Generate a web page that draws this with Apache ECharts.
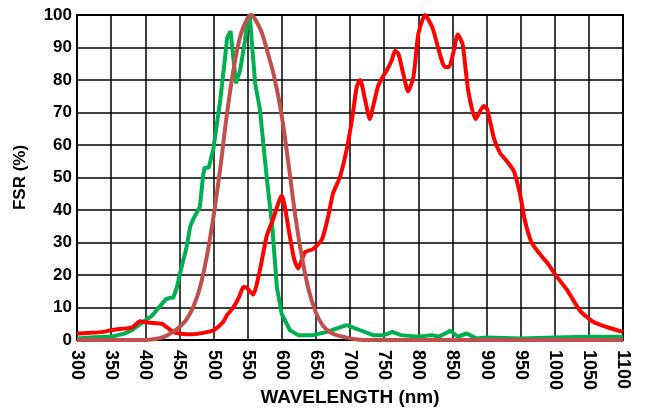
<!DOCTYPE html>
<html><head><meta charset="utf-8">
<script src="https://cdn.jsdelivr.net/npm/echarts@6/dist/echarts.min.js"></script>
<style>html,body{margin:0;padding:0;background:#fff}#c{width:649px;height:410px}</style>
</head><body><div id="c"></div>
<script>
const xTicks = [300,350,400,450,500,550,600,650,700,750,800,850,900,950,1000,1050,1100];
const yTicks = [0,10,20,30,40,50,60,70,80,90,100];

const greenNm = [300,320,340,350,360,370,380,390,400,410,420,430,437,441,446,455,460,466,470,475,480,485,487,493,500,510,517,520,525,533,539,546,550,553,561,568,578,586,593,600,612,624,646,666,680,695,715,734,750,762,775,800,820,830,847,858,871,885,900,950,1000,1050,1100];
const greenV  = [0.5,0.8,1,1,1.5,2,3,4.5,6,7.5,10,12.5,13,13,16,24,28,35,37,39,41,51,53,53,59,74,87,93,95,79,83,92,99,100,79,71,50,35,16,8,3,1.5,1.5,2.5,3.5,4.6,3,1.5,1.5,2.5,1.5,1,1.5,1,2.8,1,2,0.5,0.8,0.5,0.8,1,1];

const redNm = [300,320,338,350,363,370,382,392,400,407,424,433,441,450,461,470,485,500,514,520,529,537,544,549,558,568,578,587,600,612,618,624,634,646,659,668,675,685,695,703,710,715,722,729,734,741,747,754,761,766,771,778,785,793,800,810,821,829,839,845,851,858,865,873,884,896,901,911,920,930,940,949,956,966,978,990,1003,1018,1037,1056,1076,1100];
const redV  = [2,2.2,2.5,3,3.4,3.5,4,5.8,5.5,5.3,5,3.7,2.5,2,1.8,1.8,2.2,3,5.5,7.7,10,13,16.3,16,14,21.5,32,37,44.5,31.7,25,22,27,28,31,38,45,50,58.5,68,78,80,74,68,72,78,80.6,83,86,89,88,82,76.5,81,94,100,96,90,84,84,88,94,91,77,68,72,71,62,57.5,55,52,45,37,30,26.5,23.5,19.5,15.4,9,5.6,4,2.5];

const brownNm = [300,400,420,430,440,450,460,470,480,490,500,510,520,530,540,550,555,560,570,580,590,600,610,620,630,640,650,660,670,680,690,700,720,1100];
const brownV  = [0,0,0.5,1.2,2.4,4,6.2,10,16,25.5,38,53,70,84,94,99,100,99,95,88,80,69,54,38,25,15,8.5,4.5,2.5,1.5,1,0.5,0,0];

const zip = (a,b) => a.map((x,i)=>[x,b[i]]);
const font = 'Liberation Sans, Arial, sans-serif';
const chart = echarts.init(document.getElementById('c'), null, {renderer:'canvas'});
chart.setOption({
  animation:false,
  backgroundColor:'#fff',
  grid:{left:77,right:26,top:15,bottom:70,containLabel:false,outerBoundsMode:'none',show:true,borderColor:'#000',borderWidth:2,backgroundColor:'transparent'},
  xAxis:{type:'value',min:300,max:1100,interval:50,
    name:'WAVELENGTH (nm)',nameLocation:'middle',nameGap:48,nameMoveOverlap:false,
    nameTextStyle:{fontFamily:font,fontWeight:'bold',fontSize:19,color:'#000',verticalAlign:'top'},
    axisLine:{show:true,lineStyle:{color:'#000',width:2}},axisTick:{show:false},
    axisLabel:{rotate:-90,margin:10,fontFamily:font,fontWeight:'bold',fontSize:18,color:'#000',
      formatter:v=>xTicks.includes(v)?String(v):''},
    splitLine:{show:true,lineStyle:{color:'#000',width:1.5}}},
  yAxis:{type:'value',min:0,max:100,interval:10,
    name:'FSR (%)',nameLocation:'middle',nameGap:48,nameRotate:90,nameMoveOverlap:false,
    nameTextStyle:{fontFamily:font,fontWeight:'bold',fontSize:17,color:'#000'},
    axisLine:{show:true,lineStyle:{color:'#000',width:2}},axisTick:{show:false},
    axisLabel:{margin:5,fontFamily:font,fontWeight:'bold',fontSize:17,color:'#000',
      formatter:v=>yTicks.includes(v)?String(v):''},
    splitLine:{show:true,lineStyle:{color:'#000',width:1.5}}},
  series:[
    {type:'line',data:zip(greenNm,greenV),symbol:'none',lineStyle:{color:'#00b050',width:4},z:2},
    {type:'line',data:zip(redNm,redV),symbol:'none',smooth:0.2,lineStyle:{color:'#ff0000',width:4},z:3},
    {type:'line',data:zip(brownNm,brownV),symbol:'none',smooth:0.4,lineStyle:{color:'#c0504d',width:4},z:4}
  ]
});
</script></body></html>
